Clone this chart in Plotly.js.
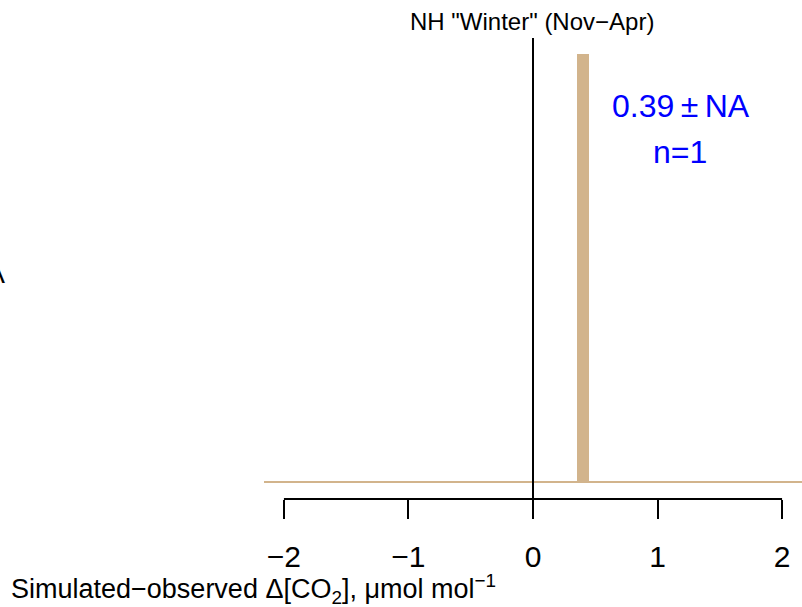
<!DOCTYPE html>
<html>
<head>
<meta charset="utf-8">
<script src="https://cdn.plot.ly/plotly-3.0.1.min.js"></script>
<style>html,body{margin:0;padding:0;background:#fff;}#plot{width:802px;height:607px;}</style>
</head>
<body>
<div id="plot"></div>
<script>
// Data
var binCenters = [0.4];
var binCounts = [1];
var binWidth = 0.1;
var baselineX = [-2.16, 2.16];
var baselineY = [0, 0];
var tickValues = [-2, -1, 0, 1, 2];
var meanText = "0.39\u2009\u00B1\u2009NA";
var nText = "n=1";
var titleText = 'NH "Winter" (Nov\u2212Apr)';
var xTitleText = "Simulated\u2212observed \u0394[CO<sub>2</sub>], \u03BCmol mol<sup>\u22121</sup>";

var tan = "#D2B48C";
var font = "Liberation Sans, Arial, Helvetica, sans-serif";

var traces = [
  {type: "scatter", mode: "lines", x: baselineX, y: baselineY,
   line: {color: tan, width: 2}, hoverinfo: "skip", showlegend: false},
  {type: "bar", x: binCenters, y: binCounts, width: binWidth,
   marker: {color: tan, line: {width: 0}}, showlegend: false}
];

// pixel -> paper helpers (plot area x 264..802, y 38..499)
function px(v){ return (v - 264) / 538; }
function py(v){ return (499 - v) / 461; }

var layout = {
  width: 802, height: 607,
  margin: {l: 264, r: 0, t: 38, b: 108, pad: 0},
  paper_bgcolor: "#fff", plot_bgcolor: "#fff",
  font: {family: font, color: "#000"},
  xaxis: {range: [-2.16, 2.16], tickvals: tickValues, ticks: "outside",
          ticklen: 19, tickwidth: 2, tickcolor: "#000", showline: false,
          showgrid: false, zeroline: false, tickfont: {size: 30, family: font},
          ticklabelstandoff: 12, fixedrange: true},
  yaxis: {range: [-0.0397, 1.0374], visible: false, showgrid: false,
          zeroline: false, fixedrange: true},
  bargap: 0,
  shapes: [
    {type: "line", xref: "x", yref: "paper", x0: -2, x1: 2, y0: 0, y1: 0,
     line: {color: "#000", width: 2}},
    {type: "line", xref: "x", yref: "paper", x0: 0, x1: 0, y0: py(518), y1: 1,
     line: {color: "#000", width: 2}}
  ],
  annotations: [
    {text: titleText, xref: "paper", yref: "paper", x: px(532), y: py(22),
     xanchor: "center", yanchor: "middle", showarrow: false,
     font: {size: 24, family: font, color: "#000"}},
    {text: xTitleText, xref: "paper", yref: "paper", x: px(253), y: py(589),
     xanchor: "center", yanchor: "middle", showarrow: false,
     font: {size: 27, family: font, color: "#000"}},
    {text: meanText, xref: "paper", yref: "paper", x: px(681), y: py(106),
     xanchor: "center", yanchor: "middle", showarrow: false,
     font: {size: 32, family: font, color: "#0000FF"}},
    {text: nText, xref: "paper", yref: "paper", x: px(680), y: py(152),
     xanchor: "center", yanchor: "middle", showarrow: false,
     font: {size: 32, family: font, color: "#0000FF"}},
    {text: "NA", xref: "paper", yref: "paper", x: px(7), y: py(273),
     xanchor: "right", yanchor: "middle", showarrow: false,
     font: {size: 28, family: font, color: "#000"}}
  ]
};

Plotly.newPlot("plot", traces, layout, {displayModeBar: false, staticPlot: true});
</script>
</body>
</html>
